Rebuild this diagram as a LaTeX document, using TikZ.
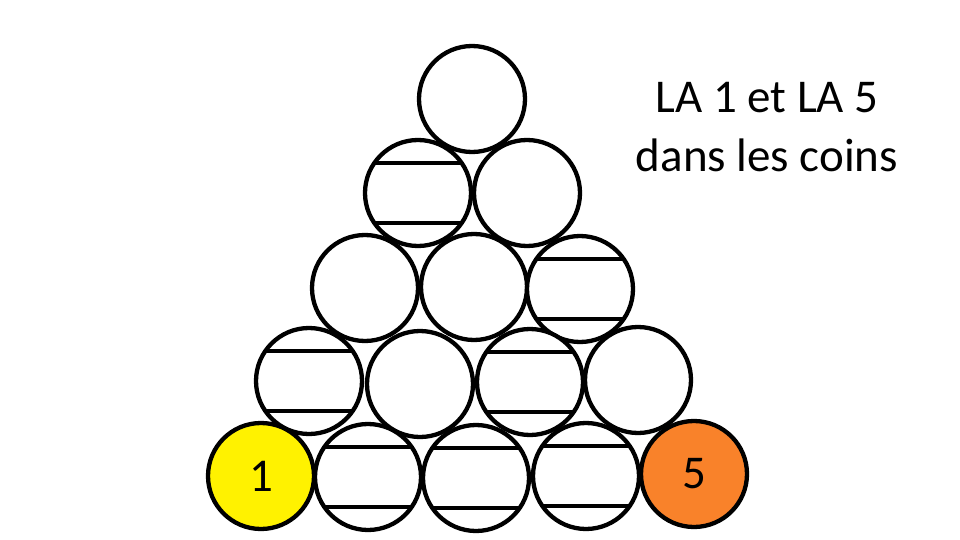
\documentclass[tikz,border=0pt]{standalone}
\usepackage{fontspec}
\setmainfont{Carlito}
\usepackage{tikz}
\usetikzlibrary{shapes,calc}
\definecolor{ballyellow}{HTML}{FFF200}
\definecolor{ballorange}{HTML}{F9822A}
\tikzset{ball/.style={draw,circle,line width=4.3pt,inner sep=0pt,minimum size=106pt,fill=white}}
\tikzstyle{striped}=[ball, path picture={\draw[line width=4.3pt]
  ([yshift=30pt]path picture bounding box.west) -- ([yshift=30pt]path picture bounding box.east)
  ([yshift=-30pt]path picture bounding box.west) -- ([yshift=-30pt]path picture bounding box.east);}]
\begin{document}
\begin{tikzpicture}[x=1pt, y=-1pt, font=\fontsize{47}{59}\selectfont]
\useasboundingbox (0,0) rectangle (960,540);
\node[ball] (A1) at (472,99) {};
\node[striped] (B1) at (418,193) {};
\node[ball] (B2) at (527,193) {};
\node[ball] (C1) at (365,288) {};
\node[ball] (C2) at (474,287) {};
\node[striped] (C3) at (580,289) {};
\node[striped] (D1) at (309,381) {};
\node[ball] (D2) at (420,384) {};
\node[striped] (D3) at (530,382) {};
\node[ball] (D4) at (638,380) {};
\node[ball, fill=ballyellow] (E1) at (261,476) {1};
\node[striped] (E2) at (368,477) {};
\node[striped] (E3) at (476,478) {};
\node[striped] (E4) at (586,476) {};
\node[ball, fill=ballorange] (E5) at (694,474) {5};
\node[align=center] (title) at (767,127) {LA 1 et LA 5\\dans les coins};
\end{tikzpicture}
\end{document}
